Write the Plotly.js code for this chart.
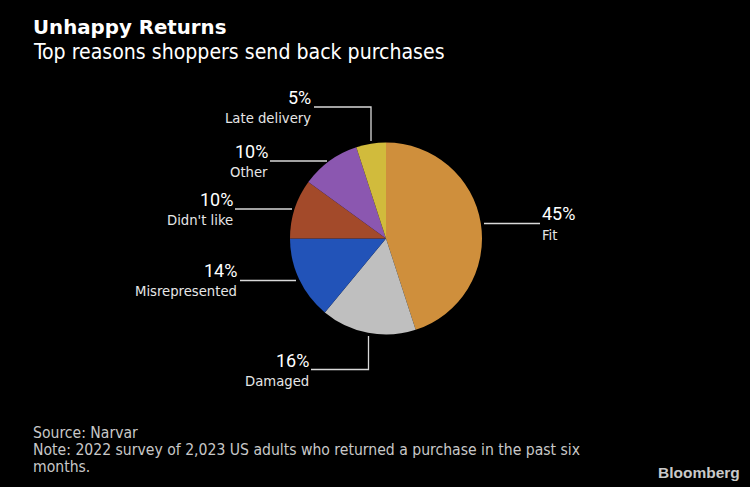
<!DOCTYPE html>
<html>
<head>
<meta charset="utf-8">
<script src="https://cdn.plot.ly/plotly-3.0.1.min.js"></script>
<style>html,body{margin:0;padding:0;background:#000}#c{width:750px;height:487px}</style>
</head>
<body>
<div id="c"></div>
<script>
const categories = ["Fit","Damaged","Misrepresented","Didn't like","Other","Late delivery"];
const shares = [45,16,14,10,10,5];
const colours = ["#cf8f3c","#bfbfbf","#2253b8","#a34a2a","#8b57b0","#d1bb3c"];
const W = 750, H = 487;
const px = x => x / W, py = y => 1 - y / H;
const FONT = '"DejaVu Sans", sans-serif';
const COND = '"DejaVu Sans Condensed", "DejaVu Sans", sans-serif';
const NARROW = 'Roboto, "DejaVu Sans Condensed", sans-serif';

// label anchors: [category index, x, y of value line, x anchor]
const labelPos = [
  [0, 542, 214, 'left'],
  [1, 309, 360, 'right'],
  [2, 237, 270, 'right'],
  [3, 233, 199, 'right'],
  [4, 268, 151, 'right'],
  [5, 311, 97, 'right']
];
// leader paths
const leaders = [
  'M484,223.5 L540,223.5',
  'M368.5,336 L368.5,369.5 L311,369.5',
  'M296,280.5 L240,280.5',
  'M292,209 L235,209',
  'M327,161 L270,161',
  'M371,141 L371,107 L314,107'
];
function toPaper(path){
  return path.replace(/([ML])([\d.]+),([\d.]+)/g,(m,c,x,y)=>c+px(+x)+','+py(+y));
}
const shapes = leaders.map(p=>({type:'path',xref:'paper',yref:'paper',path:toPaper(p),line:{color:'#d9d9d9',width:1.3},fillcolor:'rgba(0,0,0,0)'}));

function txt(t,x,y,size,color,anchor,family,extra){
  return Object.assign({text:t,x:px(x),y:py(y),xref:'paper',yref:'paper',showarrow:false,xanchor:anchor||'left',yanchor:'middle',
    font:{family:family||FONT,size:size,color:color},align:anchor||'left',borderpad:0,borderwidth:0},extra||{});
}
const annotations = [];
labelPos.forEach(([i,x,y,a])=>{
  annotations.push(txt(shares[i]+'%',x,y,18,'#ffffff',a,NARROW));
  annotations.push(txt(categories[i],x,y+20.3,14.7,'#e6e6e6',a,COND));
});
annotations.push(txt('<b>Unhappy Returns</b>',33,27.5,19.8,'#ffffff'));
annotations.push(txt('Top reasons shoppers send back purchases',33,51.5,21.1,'#ffffff','left',COND));
annotations.push(txt('Source: Narvar',33,432.5,15.6,'#c8c8c8','left',COND));
annotations.push(txt('Note: 2022 survey of 2,023 US adults who returned a purchase in the past six',33,450,15.6,'#c8c8c8','left',COND));
annotations.push(txt('months.',33,467,15.6,'#c8c8c8','left',COND));
annotations.push(txt('<b>Bloomberg</b>',740,472.5,15.5,'#c9c9c9','right','"Liberation Sans", Arial, sans-serif'));

Plotly.newPlot('c',[{
  type:'pie',
  labels:categories,
  values:shares,
  sort:false,
  direction:'clockwise',
  rotation:0,
  textinfo:'none',
  hoverinfo:'label+percent',
  marker:{colors:colours,line:{width:0}},
  domain:{x:[px(290),px(482)],y:[py(334.5),py(142.5)]}
}],{
  width:W,height:H,
  paper_bgcolor:'#000',plot_bgcolor:'#000',
  margin:{l:0,r:0,t:0,b:0},
  showlegend:false,
  shapes:shapes,
  annotations:annotations
},{displayModeBar:false,staticPlot:true});
</script>
</body>
</html>
